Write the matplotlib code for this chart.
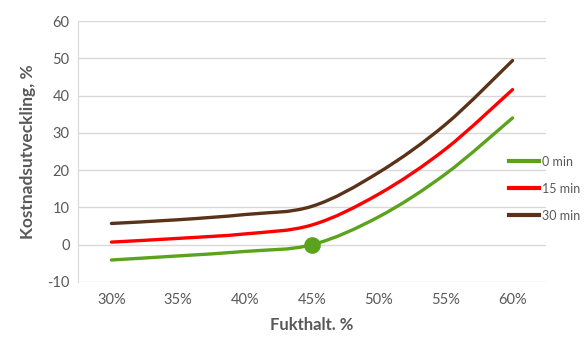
import numpy as np
import matplotlib
matplotlib.use('Agg')
import matplotlib.pyplot as plt
from matplotlib.path import Path
from matplotlib.patches import PathPatch
from matplotlib.lines import Line2D

plt.rcParams['font.family'] = ['Lato', 'DejaVu Sans']
plt.rcParams['axes.unicode_minus'] = False

# fukthalt (moisture content) categories and cost development per drying time
fukthalt = ['30%', '35%', '40%', '45%', '50%', '55%', '60%']
min0 = [-4.1, -3.0, -1.8, 0.0, 7.5, 19.0, 34.0]
min15 = [0.7, 1.7, 2.9, 5.3, 13.6, 25.7, 41.6]
min30 = [5.7, 6.7, 8.1, 10.3, 19.4, 32.3, 49.4]
labels = ['0 min', '15 min', '30 min']
colors = ['#5BA31C', '#FF0000', '#5A3219']
yticks = [-10, 0, 10, 20, 30, 40, 50, 60]


def smooth_path(x, y, t=1/6.):
    # bezier path through the points, like excel's smoothed line
    x = np.asarray(x, float)
    y = np.asarray(y, float)
    n = len(x)
    verts = [(x[0], y[0])]
    codes = [Path.MOVETO]
    for i in range(n-1):
        i0 = max(i-1, 0)
        i3 = min(i+2, n-1)
        c1 = (x[i] + (x[i+1]-x[i0])*t, y[i] + (y[i+1]-y[i0])*t)
        c2 = (x[i+1] - (x[i3]-x[i])*t, y[i+1] - (y[i3]-y[i])*t)
        verts += [c1, c2, (x[i+1], y[i+1])]
        codes += [Path.CURVE4]*3
    return Path(verts, codes)


fig = plt.figure(figsize=(5.85, 3.4), dpi=100)
ax = fig.add_axes([0.1333, 0.1706, 0.8, 0.7676])

x = np.arange(len(fukthalt))
for ys, c in zip([min0, min15, min30], colors):
    ax.add_patch(PathPatch(smooth_path(x, ys), fill=False, edgecolor=c,
                           lw=2.4, capstyle='round', zorder=3))

# marked point at 45 %
ax.plot(x[3], min0[3], 'o', color=colors[0], ms=11, zorder=4)

ax.set_xlim(-0.5, 6.5)
ax.set_ylim(-10, 60)
ax.set_xticks(x)
ax.set_xticklabels(fukthalt)
ax.set_yticks(yticks)
ax.tick_params(length=0, labelsize=10.5, colors='#595959', pad=8)
ax.tick_params(axis='y', pad=6)
ax.grid(axis='y', color='#D9D9D9', lw=1)
ax.set_axisbelow(True)
for s in ['top', 'right', 'bottom']:
    ax.spines[s].set_visible(False)
ax.spines['left'].set_color('#D9D9D9')

ax.set_xlabel('Fukthalt. %', fontsize=12, fontweight='bold', color='#595959', labelpad=7)
ax.set_ylabel('Kostnadsutveckling, %', fontsize=12.5, fontweight='bold', color='#595959', labelpad=8)

handles = [Line2D([], [], color=c, lw=3) for c in colors]
fig.legend(handles, labels, loc='center left', bbox_to_anchor=(0.86, 0.445),
           frameon=False, fontsize=9, handlelength=2.4, handletextpad=0.25,
           labelspacing=1.2, borderpad=0, labelcolor='#595959')

fig.savefig('out.png', dpi=100)
